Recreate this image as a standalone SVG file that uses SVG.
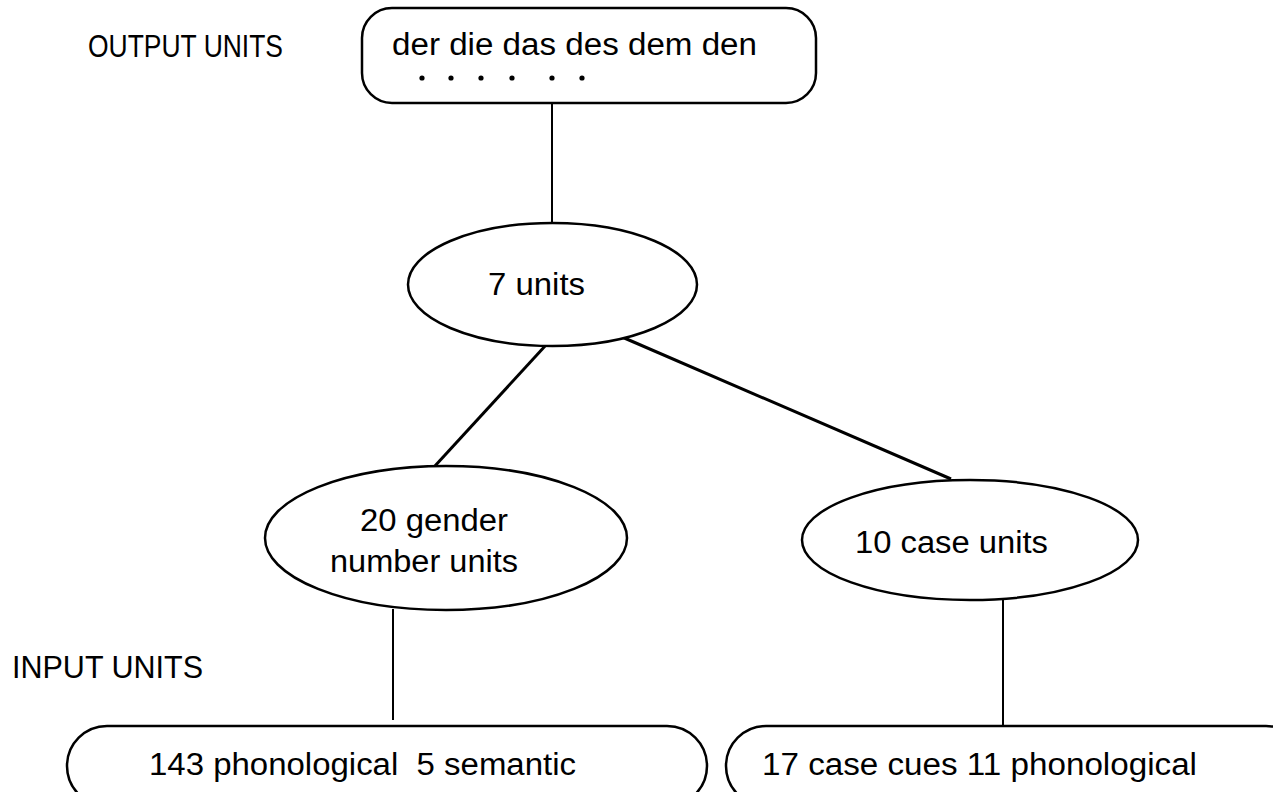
<svg xmlns="http://www.w3.org/2000/svg" width="1273" height="792" viewBox="0 0 1273 792">
<style>
.shape{fill:#fff;stroke:#000;stroke-width:2.5}
.t{font-family:"Liberation Sans",Arial,Helvetica,sans-serif;font-size:31px;fill:#000;white-space:pre}
.lbl{font-family:"Liberation Sans",Arial,Helvetica,sans-serif;font-size:31px;fill:#000}
.c{stroke:#000;fill:none}
</style>
<rect width="1273" height="792" fill="#fff"/>
<g id="connectors">
<line class="c" x1="552" y1="103" x2="552" y2="223" stroke-width="2"/>
<line class="c" x1="546" y1="345" x2="434" y2="467" stroke-width="3"/>
<line class="c" x1="622" y1="337" x2="951" y2="479" stroke-width="3"/>
<line class="c" x1="393" y1="609" x2="393" y2="720" stroke-width="2"/>
<line class="c" x1="1003" y1="597" x2="1003" y2="731" stroke-width="2"/>
</g>
<g id="label-output">
<text class="lbl" x="88" y="57" textLength="195" lengthAdjust="spacingAndGlyphs">OUTPUT UNITS</text>
</g>
<g id="label-input">
<text class="lbl" x="12" y="678" textLength="191" lengthAdjust="spacingAndGlyphs">INPUT UNITS</text>
</g>
<g id="output-units">
<rect class="shape" x="362" y="8" width="454" height="95" rx="30"/>
<text class="t" x="392" y="55" textLength="365" lengthAdjust="spacingAndGlyphs">der die das des dem den</text>
<g fill="#000">
<circle cx="422" cy="78" r="2.6"/>
<circle cx="451" cy="78" r="2.6"/>
<circle cx="481" cy="78" r="2.6"/>
<circle cx="512" cy="78" r="2.6"/>
<circle cx="552" cy="78" r="2.6"/>
<circle cx="582" cy="78" r="2.6"/>
</g>
</g>
<g id="hidden-7">
<ellipse class="shape" cx="552.5" cy="284.5" rx="144.5" ry="61.5"/>
<text class="t" x="488" y="295" textLength="97" lengthAdjust="spacingAndGlyphs">7 units</text>
</g>
<g id="gender-number">
<ellipse class="shape" cx="446" cy="538" rx="181" ry="72"/>
<text class="t" x="360" y="531" textLength="148" lengthAdjust="spacingAndGlyphs">20 gender</text>
<text class="t" x="330" y="572" textLength="188" lengthAdjust="spacingAndGlyphs">number units</text>
</g>
<g id="case-units">
<ellipse class="shape" cx="970" cy="540" rx="168" ry="60"/>
<text class="t" x="855" y="553" textLength="193" lengthAdjust="spacingAndGlyphs">10 case units</text>
</g>
<g id="input-left">
<rect class="shape" x="67" y="726" width="640" height="80" rx="40"/>
<text class="t" x="149" y="775" textLength="427" lengthAdjust="spacingAndGlyphs" xml:space="preserve">143 phonological  5 semantic</text>
</g>
<g id="input-right">
<rect class="shape" x="726" y="726" width="580" height="80" rx="40"/>
<text class="t" x="762" y="775" textLength="435" lengthAdjust="spacingAndGlyphs">17 case cues 11 phonological</text>
</g>
</svg>
